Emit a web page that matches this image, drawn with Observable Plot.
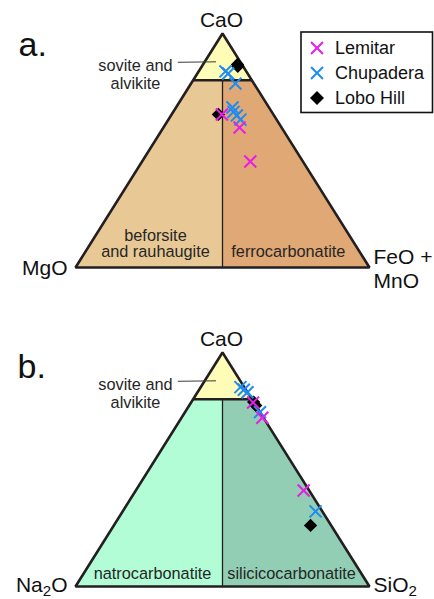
<!DOCTYPE html>
<html><head><meta charset="utf-8">
<script src="https://cdn.jsdelivr.net/npm/d3@7"></script>
<script src="https://cdn.jsdelivr.net/npm/@observablehq/plot@0.6"></script>
<style>
html,body{margin:0;padding:0;background:#fff;}
#wrap{position:relative;width:434px;height:599px;font-family:"Liberation Sans",Arial,sans-serif;}
#wrap > svg{display:block;}
</style></head><body><div id="wrap"></div>
<script>
// ---- series ----
const series = ["Lemitar", "Chupadera", "Lobo Hill"];
const seriesColors = ["#e61ee6", "#1e8cf0", "#000000"];
const seriesSymbols = ["times", "times", "diamond2"];

// ---- panel a: CaO – MgO – (FeO+MnO), wt % ----
const lemitarA_CaO  = [65.4, 59.8, 45.3];
const lemitarA_MgO  = [17.5, 14.3, 17.9];
const lemitarA_FeMn = [17.1, 25.9, 36.8];
const chupaderaA_CaO  = [83.8, 82.9, 78.6, 68.4, 66.5, 65.0, 63.2];
const chupaderaA_MgO  = [7.1, 6.6, 6.3, 12.4, 13.0, 12.6, 12.3];
const chupaderaA_FeMn = [9.1, 10.5, 15.1, 19.2, 20.5, 22.4, 24.5];
const loboA_CaO  = [86.8, 86.0, 65.4];
const loboA_MgO  = [1.5, 1.8, 18.7];
const loboA_FeMn = [11.7, 12.2, 15.9];

// ---- panel b: CaO – Na2O – SiO2, wt % ----
const lemitarB_CaO  = [78.6, 72.1, 41.0];
const lemitarB_Na2O = [0.3, 0.4, 1.9];
const lemitarB_SiO2 = [21.1, 27.5, 57.1];
const chupaderaB_CaO  = [85.2, 84.1, 83.0, 74.5, 32.1];
const chupaderaB_Na2O = [1.3, 0.7, 0.0, 0.0, 2.3];
const chupaderaB_SiO2 = [13.5, 15.2, 17.0, 25.5, 65.6];
const loboB_CaO  = [78.8, 77.4, 26.1];
const loboB_Na2O = [0.0, 0.0, 7.0];
const loboB_SiO2 = [21.2, 22.6, 66.9];

// ---- classification fields ----
const sovitePct = 80; // CaO > 80 %
const fieldsA = ["sovite and\nalvikite", "beforsite\nand rauhaugite", "ferrocarbonatite"];
const fieldsB = ["sovite and\nalvikite", "natrocarbonatite", "silicicocarbonatite"];
const fieldColorsA = ["#fffcb8", "#e8c996", "#e0a874"];
const fieldColorsB = ["#fffcb8", "#b2fdd6", "#92ceb4"];
const vertexLabelsA = ["CaO", "MgO", "FeO +\nMnO"];
const vertexLabelsB = ["CaO", "Na₂O", "SiO₂"];

// ternary (top, left, right) -> normalized x,y
function tern(t, l, r) { const s = t + l + r; return {x: (r + t / 2) / s, y: t / s}; }
function pts(T, L, R) { return T.map((t, i) => tern(t, L[i], R[i])); }

const s = sovitePct, h = (100 - s) / 2;
const fieldPolys = [
  [[100, 0, 0], [s, 100 - s, 0], [s, 0, 100 - s]],
  [[s, 100 - s, 0], [0, 100, 0], [0, 50, 50], [s, h, h]],
  [[s, h, h], [0, 50, 50], [0, 0, 100], [s, 0, 100 - s]]
];
const triangle = [[100, 0, 0], [0, 100, 0], [0, 0, 100]];

function panel(opts) {
  const {fields, fieldColors, vertexLabels, groups, letter, marginTop, marginBottom, height, labelPos, letterDx, letterDy, vdy} = opts;
  const marks = [];
  fieldPolys.forEach((p, i) => {
    marks.push(Plot.line(p.map(v => tern(...v)), {x: "x", y: "y", fill: fieldColors[i], stroke: "none", curve: "linear-closed"}));
  });
  const mid = tern(s, h, h), base = tern(0, 50, 50);
  marks.push(Plot.link([0], {x1: mid.x, y1: mid.y, x2: base.x, y2: base.y, stroke: "#231f20", strokeWidth: 1.3}));
  const hl = tern(s, 100 - s, 0), hr = tern(s, 0, 100 - s);
  marks.push(Plot.link([0], {x1: hl.x, y1: hl.y, x2: hr.x, y2: hr.y, stroke: "#231f20", strokeWidth: 2.4}));
  marks.push(Plot.line(triangle.map(v => tern(...v)), {x: "x", y: "y", stroke: "#231f20", strokeWidth: 2.6, curve: "linear-closed", strokeLinejoin: "miter"}));
  // leader line for sovite label
  marks.push(Plot.link([0], {x1: 0.348, y1: 0.877, x2: 0.478, y2: 0.879, stroke: "#3a3a3a", strokeWidth: 1}));
  // field labels
  fields.forEach((f, i) => {
    marks.push(Plot.text([f], {x: labelPos[i][0], y: labelPos[i][1], text: d => d, fontSize: 16.3, lineAnchor: "bottom", lineHeight: i === 0 ? 1.12 : 1.02, fill: "#262626", textAnchor: "middle"}));
  });
  // vertex labels
  const V = triangle.map(v => tern(...v));
  marks.push(Plot.text([vertexLabels[0]], {x: V[0].x, y: V[0].y, text: d => d, fontSize: 21, lineAnchor: "bottom", dy: -7, dx: -1, fill: "#111"}));
  marks.push(Plot.text([vertexLabels[1]], {x: V[1].x, y: V[1].y, text: d => d, fontSize: 21, lineAnchor: "bottom", dy: vdy, dx: -8, textAnchor: "end", fill: "#111"}));
  marks.push(Plot.text([vertexLabels[2]], {x: V[2].x, y: V[2].y, text: d => d, fontSize: 21, lineAnchor: "bottom", lineHeight: 1.1, dy: vdy + 13 * (vertexLabels[2].includes("\n") ? 1 : 0), dx: 4, textAnchor: "start", fill: "#111"}));
  // panel letter
  marks.push(Plot.text([letter], {frameAnchor: "top-left", text: d => d, fontSize: 34, lineAnchor: "bottom", textAnchor: "start", dx: letterDx, dy: letterDy, fill: "#111"}));
  // data (Lobo Hill first, then Chupadera, then Lemitar on top)
  [2, 1, 0].forEach(k => {
    const data = groups[k];
    if (seriesSymbols[k] === "times") {
      marks.push(Plot.dot(data, {x: "x", y: "y", symbol: "times", r: 5.5, stroke: seriesColors[k], strokeWidth: 2, fill: "none"}));
    } else {
      marks.push(Plot.dot(data, {x: "x", y: "y", symbol: "diamond2", r: 6, fill: seriesColors[k], stroke: "none"}));
    }
  });
  return Plot.plot({
    width: 434, height, marginLeft: 75, marginRight: 65, marginTop, marginBottom,
    x: {domain: [0, 1], axis: null}, y: {domain: [0, 1], axis: null},
    style: {fontFamily: '"Liberation Sans", Arial, sans-serif', background: "transparent", overflow: "visible"},
    marks
  });
}

const chartA = panel({
  fields: fieldsA, fieldColors: fieldColorsA, vertexLabels: vertexLabelsA, letter: "a.",
  groups: [pts(lemitarA_CaO, lemitarA_MgO, lemitarA_FeMn), pts(chupaderaA_CaO, chupaderaA_MgO, chupaderaA_FeMn), pts(loboA_CaO, loboA_MgO, loboA_FeMn)],
  marginTop: 33, marginBottom: 33, height: 300,
  labelPos: [[0.204, 0.762], [0.272, 0.043], [0.724, 0.043]],
  letterDx: -57, letterDy: 22, vdy: 7
});
const chartB = panel({
  fields: fieldsB, fieldColors: fieldColorsB, vertexLabels: vertexLabelsB, letter: "b.",
  groups: [pts(lemitarB_CaO, lemitarB_Na2O, lemitarB_SiO2), pts(chupaderaB_CaO, chupaderaB_Na2O, chupaderaB_SiO2), pts(loboB_CaO, loboB_Na2O, loboB_SiO2)],
  marginTop: 52, marginBottom: 13, height: 299,
  labelPos: [[0.204, 0.762], [0.262, 0.030], [0.735, 0.030]],
  letterDx: -58, letterDy: 25, vdy: 5
});

// subscript digits
[chartA, chartB].forEach(svg => {
  d3.select(svg).selectAll("text").each(function () {
    const t = this.textContent;
    if (!t.includes("₂") || this.querySelector("tspan")) return;
    const parts = t.split("₂");
    const sel = d3.select(this); sel.text(null);
    sel.append("tspan").text(parts[0]);
    sel.append("tspan").attr("font-size", "0.72em").attr("dy", "4").text("2");
    sel.append("tspan").attr("dy", "-4").text(parts[1]);
  });
});

const wrap = document.getElementById("wrap");
wrap.appendChild(chartA);
wrap.appendChild(chartB);

// legend
const leg = d3.select(wrap).append("svg")
  .attr("width", 134).attr("height", 83)
  .style("position", "absolute").style("left", "300px").style("top", "31px")
  .style("font-family", '"Liberation Sans", Arial, sans-serif');
leg.append("rect").attr("x", 1).attr("y", 1).attr("width", 131.5).attr("height", 80.5)
  .attr("fill", "#fff").attr("stroke", "#111").attr("stroke-width", 1.6);
series.forEach((name, i) => {
  const g = leg.append("g").attr("transform", `translate(17,${17 + 25 * i})`);
  if (seriesSymbols[i] === "times") {
    g.append("path").attr("d", d3.symbol(d3.symbolTimes, Math.PI * 5.5 * 5.5)())
      .attr("fill", "none").attr("stroke", seriesColors[i]).attr("stroke-width", 2);
  } else {
    g.append("path").attr("d", d3.symbol(d3.symbolDiamond2, Math.PI * 6.3 * 6.3)()).attr("fill", seriesColors[i]);
  }
  leg.append("text").attr("x", 35).attr("y", 17 + 25 * i).attr("dy", "0.35em")
    .attr("font-size", 18).attr("fill", "#111").text(name);
});
</script></body></html>
